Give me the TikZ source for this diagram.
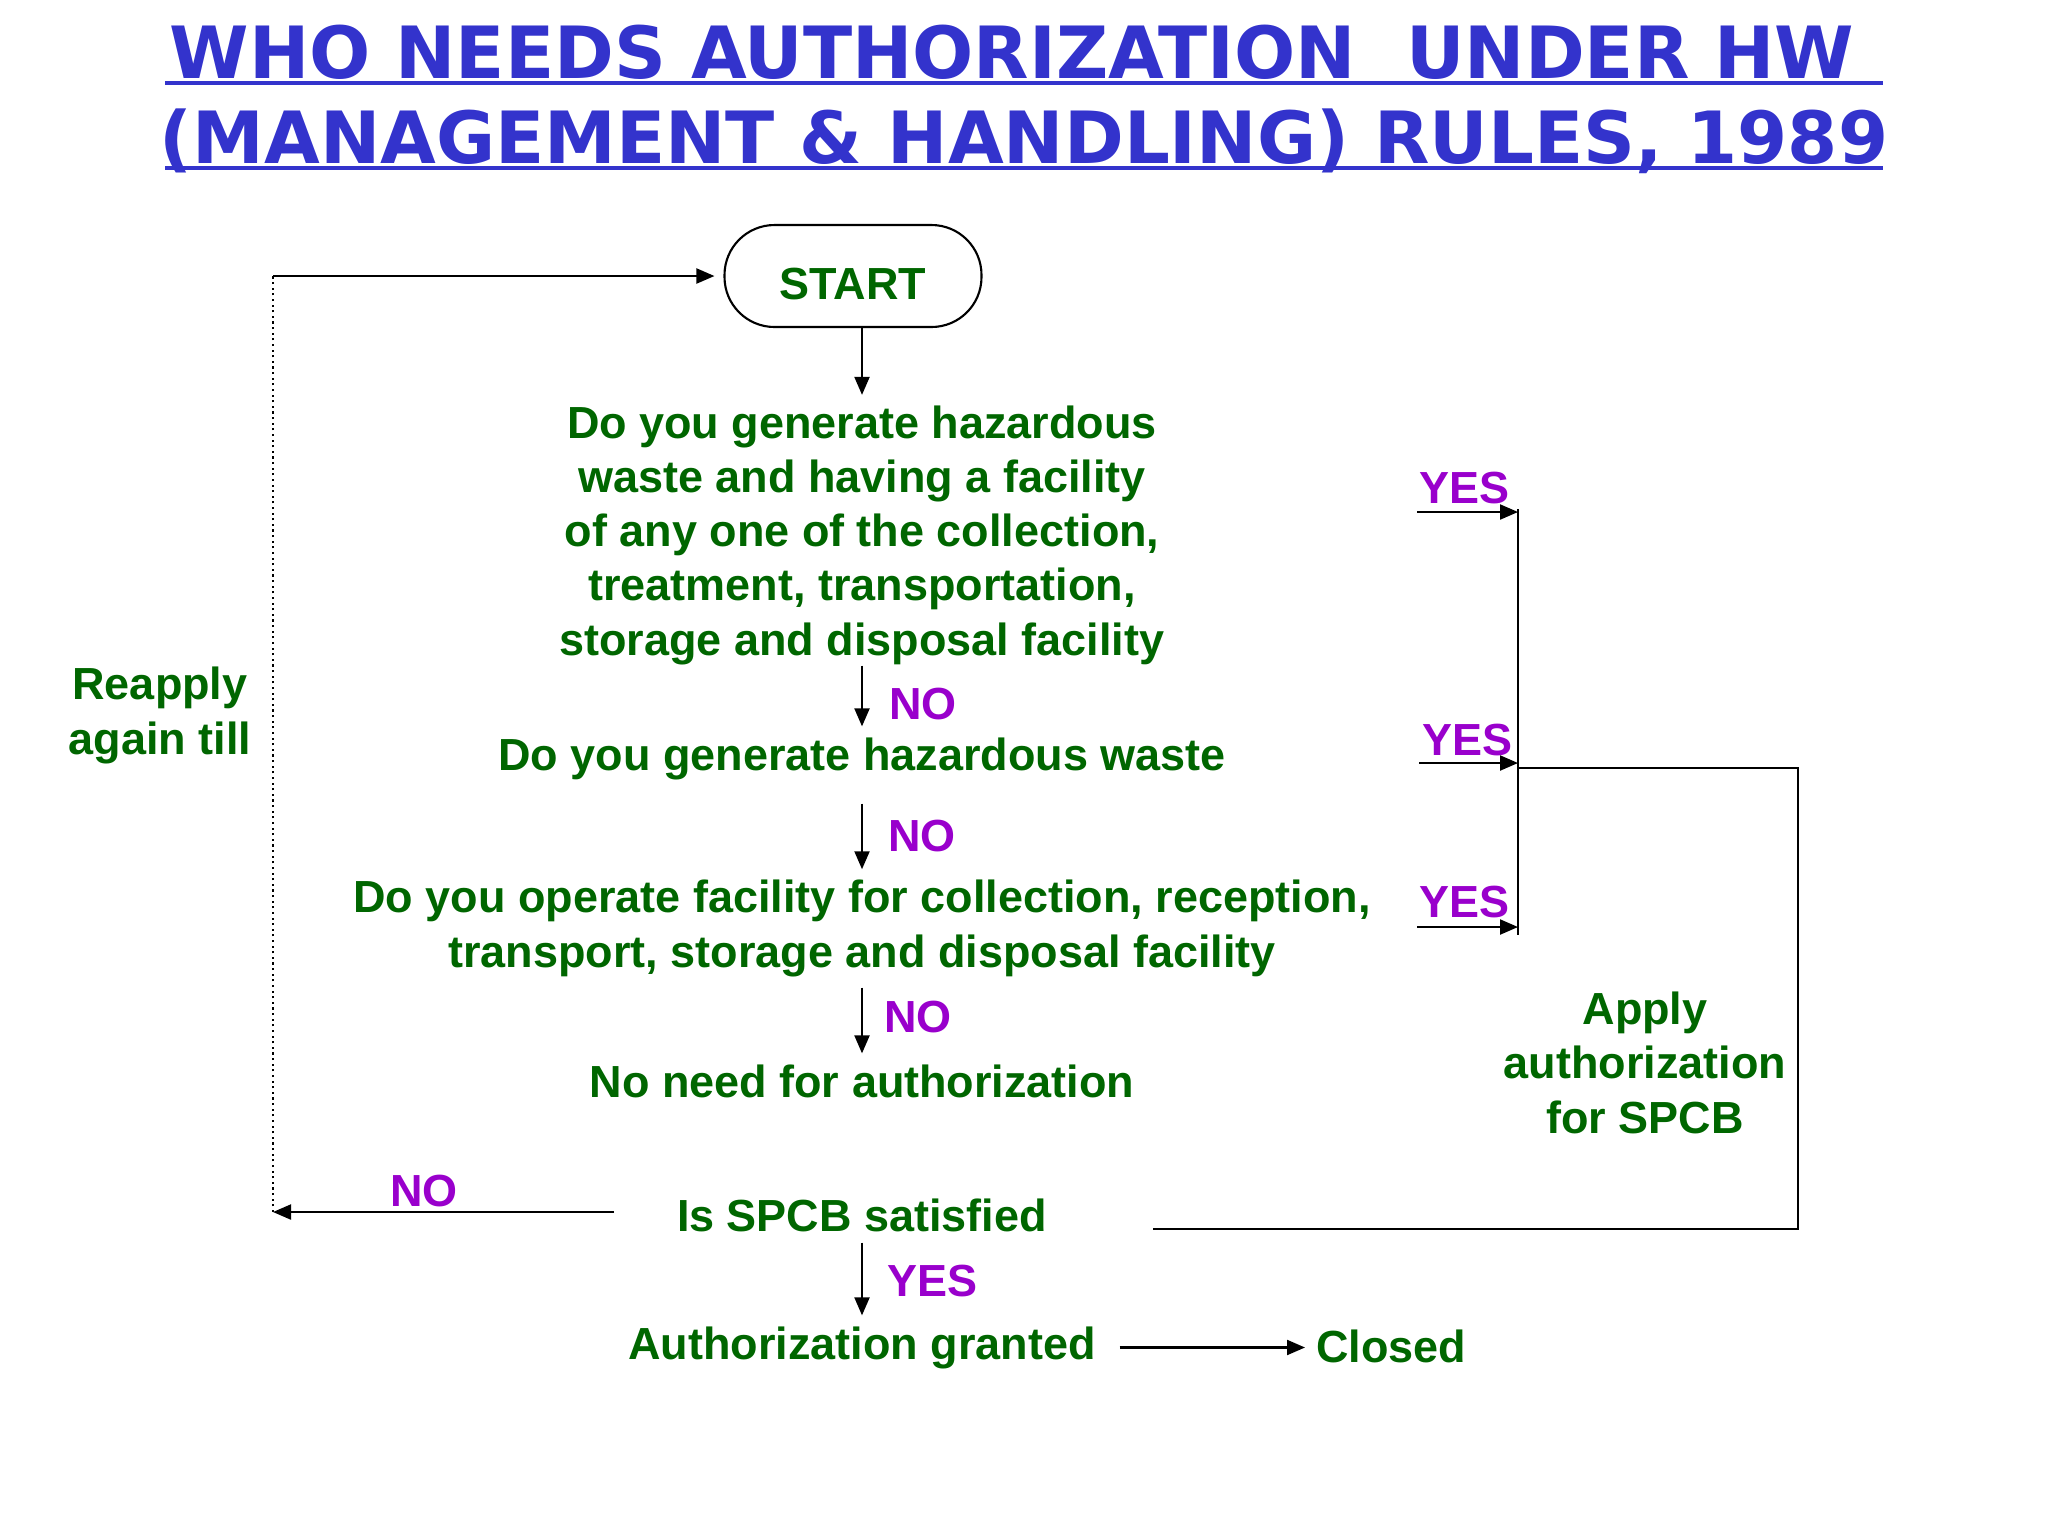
\documentclass[tikz,border=0pt]{standalone}
\usepackage{fontspec}
\setmainfont{Liberation Sans}
\newfontfamily\titlefont{DejaVu Sans}
\usepackage{tikz}
\usetikzlibrary{positioning,arrows.meta}
\definecolor{dkgreen}{HTML}{006600}
\definecolor{ynpurple}{HTML}{9900CC}
\definecolor{ttlblue}{HTML}{3333CC}

\begin{document}
\begin{tikzpicture}[
x=0.1mm, y=-0.1mm, line width=0.6pt, >={Triangle[length=1.8mm,width=1.5mm]},
startnode/.style={draw, rounded corners=5mm, minimum width=25.7mm, minimum height=10.2mm, text height=4.6mm, text depth=0pt},
textnode/.style={align=center, anchor=base, inner sep=1mm},
yesno/.style={text=ynpurple, anchor=base west, inner sep=0pt},
titlenode/.style={font=\titlefont\bfseries\fontsize{20.5}{24}\selectfont, text=ttlblue, anchor=base, inner sep=0pt}]
\tikzstyle{every node}=[font=\bfseries\fontsize{12.8}{15.4}\selectfont, text=dkgreen]
\useasboundingbox (0,0) rectangle (2048,1536);

% title
\node[titlenode] (t1) at (1012,78) {WHO NEEDS AUTHORIZATION\ \ UNDER HW};
\node[titlenode] (t2) at (1024,163) {(MANAGEMENT \& HANDLING) RULES, 1989};
\draw[ttlblue, line width=1.1pt] (165,83) -- (1883,83);
\draw[ttlblue, line width=1.1pt] (165,168) -- (1883,168);

% main column (base = last line)
\node[startnode] (1) at (853,276) {START};
\node[textnode] (2) at (862,655) {Do you generate hazardous\\waste and having a facility\\of any one of the collection,\\treatment, transportation,\\storage and disposal facility};
\node[textnode] (3) at (862,770) {Do you generate hazardous waste};
\node[textnode] (4) at (862,967) {Do you operate facility for collection, reception,\\transport, storage and disposal facility};
\node[textnode] (5) at (862,1097) {No need for authorization};
\node[textnode] (6) at (862,1231) {Is SPCB satisfied};
\node[textnode] (7) at (862,1359) {Authorization granted};
\node[textnode, anchor=base west] (8) at (1305,1362) {Closed};
\node[textnode] (9) at (160,754) {Reapply\\again till};
\node[textnode] (10) at (1645,1133) {Apply\\authorization\\for SPCB};

% labels
\node[yesno] (n1) at (888,719) {NO};
\node[yesno] (n2) at (887,851) {NO};
\node[yesno] (n3) at (883,1032) {NO};
\node[yesno] (n4) at (389,1206) {NO};
\node[yesno] (y1) at (1418,503) {YES};
\node[yesno] (y2) at (1421,755) {YES};
\node[yesno] (y3) at (1418,917) {YES};
\node[yesno] (y4) at (886,1296) {YES};

\coordinate (k1) at (273,276);
\coordinate (k2) at (614,1212);
\coordinate (k3) at (273,1212);
\coordinate (b1) at (1518,509);
\coordinate (b2) at (1518,935);
\coordinate (s1) at (1417,512);
\coordinate (s2) at (1419,763);
\coordinate (s3) at (1417,927);
\coordinate (r1) at (1518,768);
\coordinate (r2) at (1798,768);
\coordinate (r3) at (1798,1229);
\coordinate (r4) at (1153,1229);

\draw[->] (1.south -| 2) -- (2);
\draw[->, shorten <=-1mm] (2) -- (3);
\draw[->, shorten <=1.3mm] (3) -- (4);
\draw[->] (4) -- (5);
\draw[->] (6) -- (7);
\draw[->, shorten <=1.3mm] (7.east) -- (7.east -| 8.west);

\draw[->] (k2) -- (k3);
\draw[densely dotted] (k3) -- (k1);
\draw[->, shorten >=0.9mm] (k1) -- (1);

\draw (b1) -- (b2);
\draw[->] (s1) -- (s1 -| b1);
\draw[->] (s2) -- (s2 -| b1);
\draw[->] (s3) -- (s3 -| b1);
\draw (r1) -- (r2) -- (r3) -- (r4);
\end{tikzpicture}
\end{document}
